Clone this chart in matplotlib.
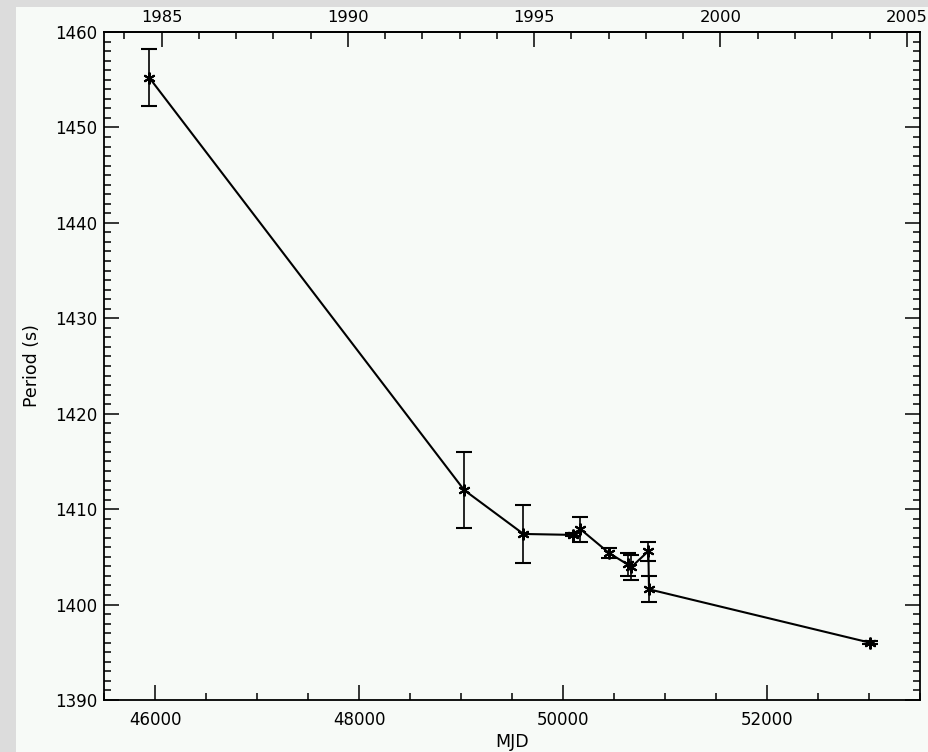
#!/usr/bin/env python
"""Spin period history against MJD, with calendar years on the top axis."""

import matplotlib

matplotlib.use("Agg")
import matplotlib.pyplot as plt
from matplotlib.patches import Rectangle
from matplotlib.ticker import FixedLocator, MultipleLocator

# period measurements
mjd = [45945, 49031, 49612, 50099, 50171, 50452, 50634, 50667, 50837, 50843, 53012]
period = [1455.2, 1412.0, 1407.4, 1407.3, 1407.9, 1405.4, 1404.2, 1403.9, 1405.6, 1401.6, 1396.0]
period_err = [3.0, 4.0, 3.0, 0.15, 1.3, 0.5, 1.2, 1.3, 1.0, 1.35, 0.15]

year_major = [1985, 1990, 1995, 2000, 2005]
year_minor = list(range(1984, 2006))


def mjd_to_year(m):
    return 2000.0 + (m - 51544.0) / 365.25


def year_to_mjd(y):
    return 51544.0 + (y - 2000.0) * 365.25


plt.rcParams["font.family"] = ["DejaVu Sans"]

fig = plt.figure(figsize=(9.29, 7.52), dpi=100, facecolor="#dcdcdc")
# light panel behind everything, leaving a grey strip on the left and top
fig.patches.append(
    Rectangle((16 / 929, 0), 1, 745 / 752, transform=fig.transFigure,
              facecolor="#f7faf7", edgecolor="none", zorder=-10)
)

ax = fig.add_axes([104 / 929, 52 / 752, 816 / 929, 668 / 752])
ax.set_facecolor("#f7faf7")

ax.errorbar(mjd, period, yerr=period_err, color="black", lw=1.5,
            elinewidth=1.2, capsize=5.5, capthick=1.2,
            marker=(6, 2, 0), markersize=8.5, markeredgewidth=1.5)

ax.set_xlim(45500, 53500)
ax.set_ylim(1390, 1460)
ax.xaxis.set_major_locator(MultipleLocator(2000))
ax.xaxis.set_minor_locator(MultipleLocator(500))
ax.yaxis.set_major_locator(MultipleLocator(10))
ax.yaxis.set_minor_locator(MultipleLocator(1))

ax.tick_params(which="both", direction="in", right=True, top=False,
               width=1.1, labelsize=12, colors="black")
ax.tick_params(which="major", length=10.5)
ax.tick_params(which="minor", length=4.8)
ax.tick_params(axis="x", pad=8)
ax.tick_params(axis="y", pad=5)

for spine in ax.spines.values():
    spine.set_linewidth(1.3)

top = ax.secondary_xaxis("top", functions=(mjd_to_year, year_to_mjd))
top.xaxis.set_major_locator(FixedLocator(year_major))
top.xaxis.set_minor_locator(FixedLocator(year_minor))
top.tick_params(which="both", direction="in", width=1.1, labelsize=11.8, pad=5)
top.tick_params(which="major", length=10.5)
top.tick_params(which="minor", length=4.8)
top.spines["top"].set_linewidth(1.3)

ax.set_xlabel("MJD", fontsize=12.5, va="center")
ax.xaxis.set_label_coords(0.5, -0.0624)
ax.set_ylabel("Period (s)", fontsize=12.5, va="center")
ax.yaxis.set_label_coords(-0.0886, 0.5)

fig.savefig("out.png", dpi=100, facecolor=fig.get_facecolor())
